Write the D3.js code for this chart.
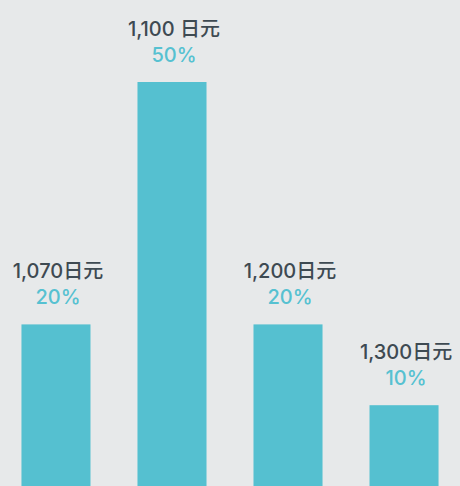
<!DOCTYPE html>
<html>
<head>
<meta charset="utf-8">
<script src="https://cdn.jsdelivr.net/npm/d3@7"></script>
<style>
  html, body { margin: 0; padding: 0; background: #e7e9ea; }
  svg { display: block; }
</style>
</head>
<body>
<svg id="chart" width="460" height="486"></svg>
<script>
// price levels and their share
const prices = ['1,070日元', '1,100 日元', '1,200日元', '1,300日元'];
const shares = [20, 50, 20, 10];

const W = 460, H = 486;
const svg = d3.select('#chart');

svg.append('rect').attr('width', W).attr('height', H).attr('fill', '#e7e9ea');

const x = d3.scaleBand()
  .domain(prices)
  .range([0, W])
  .paddingInner(0.405)
  .paddingOuter(0.185);

const y = d3.scaleLinear().domain([0, 50]).range([H, 82]);

const data = prices.map((p, i) => ({ price: p, share: shares[i] }));

svg.append('g').selectAll('rect')
  .data(data)
  .join('rect')
  .attr('x', d => x(d.price))
  .attr('y', d => y(d.share))
  .attr('width', x.bandwidth())
  .attr('height', d => H - y(d.share))
  .attr('fill', '#55c0d0');

const font = 'Inter, "Noto Sans CJK SC", sans-serif';

const labels = svg.append('g').selectAll('g')
  .data(data)
  .join('g')
  .attr('transform', d => `translate(${x(d.price) + x.bandwidth() / 2 + 2},${y(d.share) - 20})`);

labels.append('text')
  .attr('y', -26)
  .attr('text-anchor', 'middle')
  .attr('font-family', font)
  .attr('font-size', 20)
  .attr('font-weight', 500)
  .attr('fill', '#3e4a52')
  .text(d => d.price);

labels.append('text')
  .attr('text-anchor', 'middle')
  .attr('font-family', font)
  .attr('font-size', 20)
  .attr('font-weight', 500)
  .attr('fill', '#56c1d1')
  .text(d => d.share + '%');
</script>
</body>
</html>
